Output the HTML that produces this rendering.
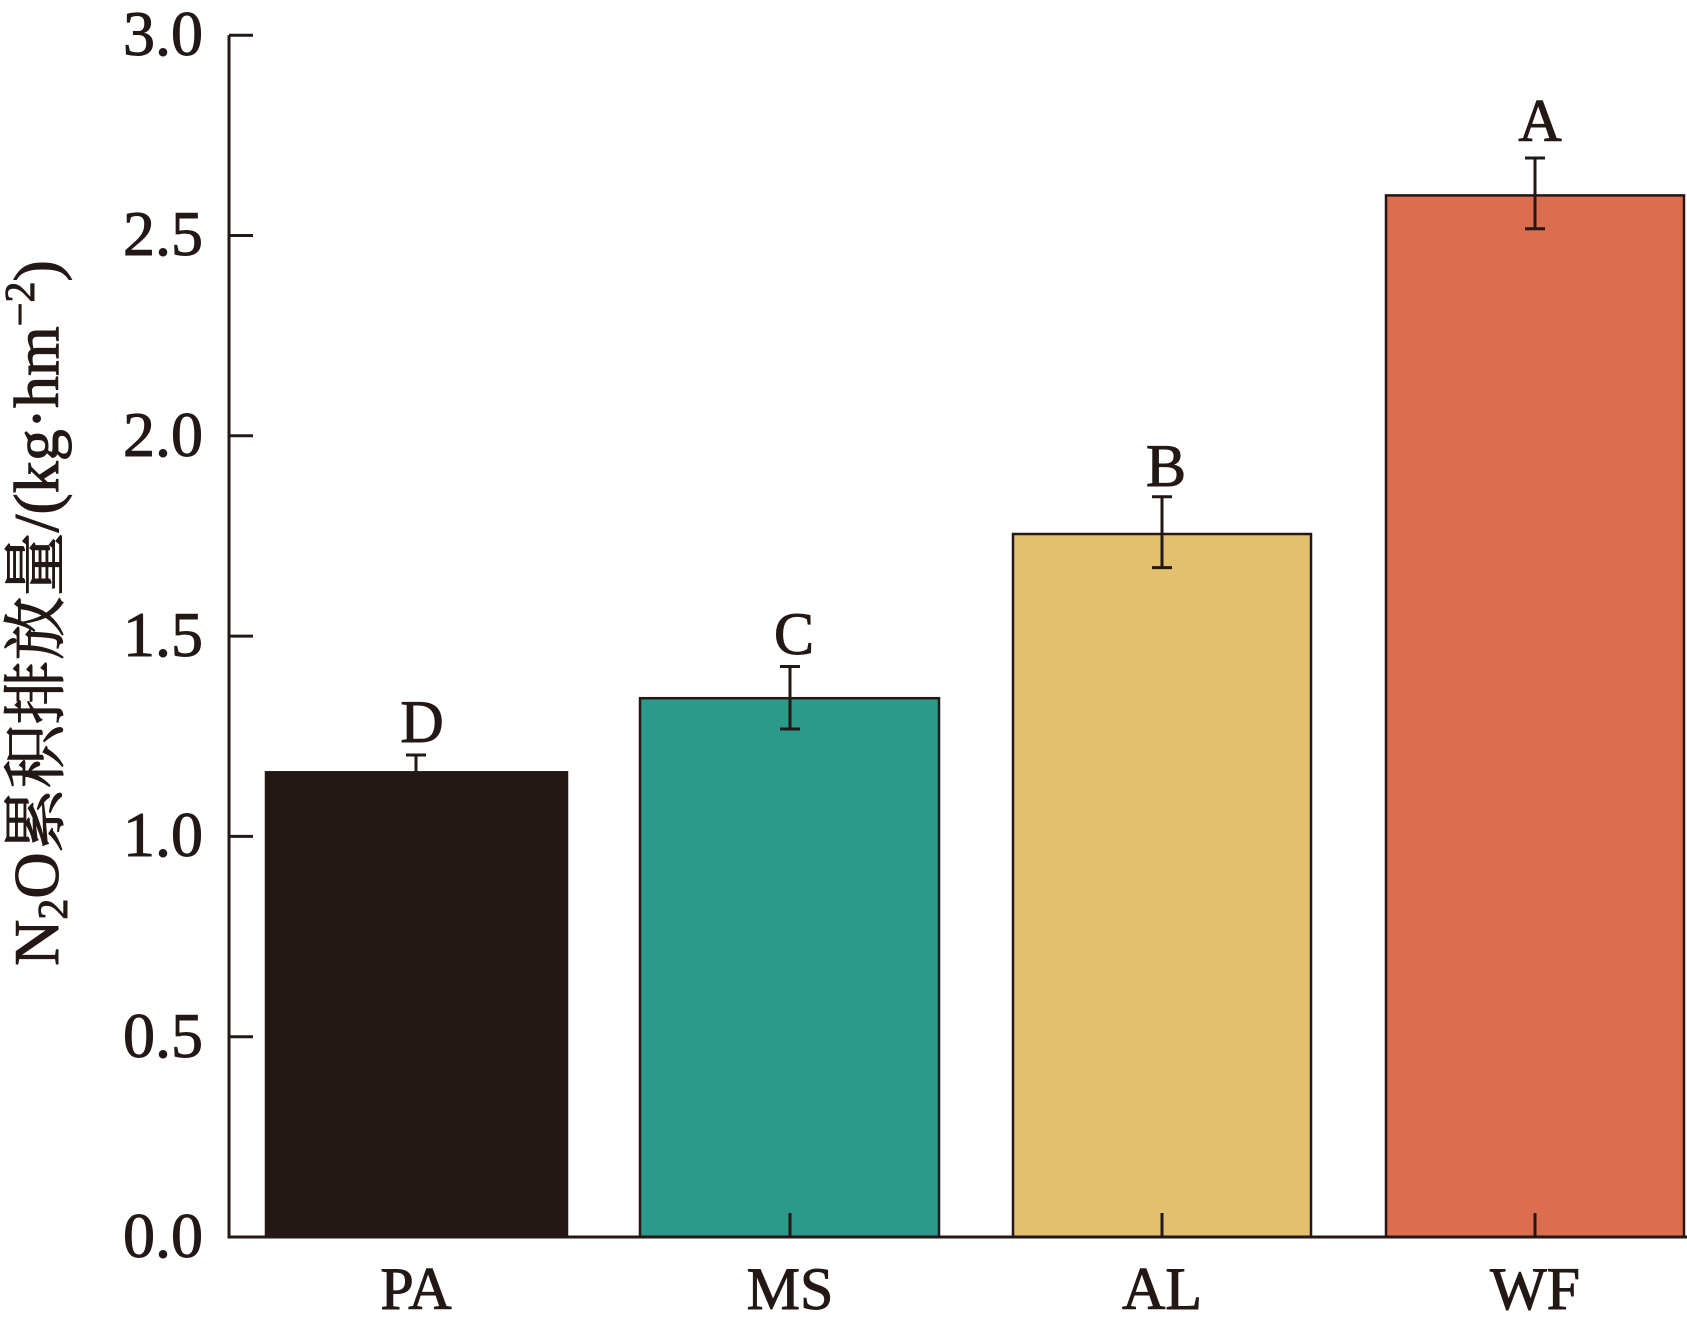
<!DOCTYPE html>
<html><head><meta charset="utf-8"><style>html,body{margin:0;padding:0;background:#fff}</style></head>
<body>
<svg width="1687" height="1312" viewBox="0 0 1687 1312" xmlns="http://www.w3.org/2000/svg" font-family="'Liberation Serif','Noto Serif CJK SC',serif" fill="#231815">
<g stroke="#231815" stroke-width="2.5">
<rect x="266" y="772.3" width="301" height="464.7" fill="#231815"/>
<rect x="640" y="698.2" width="299" height="538.8" fill="#2c9a8a"/>
<rect x="1013" y="534" width="298" height="703" fill="#e2c06e"/>
<rect x="1386" y="195.4" width="298" height="1041.6" fill="#dc6d4f"/>
</g>
<g stroke="#231815" stroke-width="3" fill="none">
<path d="M229 35.2V1237H1687"/>
<path d="M229 35.2h24M229 235.5h24M229 435.8h24M229 636.1h24M229 836.4h24M229 1036.7h24"/>
<path d="M790 1237v-24M1162 1237v-24M1535 1237v-24"/>
<path d="M416 772v-17M406 755h20"/>
<path d="M790 666.5v62.5M780 666.5h20M780 729h20"/>
<path d="M1162 496.7v70.9M1152 496.7h20M1152 567.6h20"/>
<path d="M1535 158v70.7M1525 158h20M1525 228.7h20"/>
</g>
<g stroke="#231815" stroke-width="1">
<g font-size="64" text-anchor="end">
<text x="203" y="55">3.0</text>
<text x="203" y="255">2.5</text>
<text x="203" y="456">2.0</text>
<text x="203" y="656">1.5</text>
<text x="203" y="856">1.0</text>
<text x="203" y="1057">0.5</text>
<text x="203" y="1257">0.0</text>
</g>
<g font-size="60" text-anchor="middle">
<text x="416" y="1309">PA</text>
<text x="790" y="1309">MS</text>
<text x="1162" y="1309">AL</text>
<text x="1535" y="1309">WF</text>
<text x="422" y="742">D</text>
<text x="794" y="654">C</text>
<text x="1166" y="486">B</text>
<text x="1540" y="141">A</text>
</g>
<text transform="translate(58,613) rotate(-90)" font-size="64" text-anchor="middle">N<tspan font-size="42" dy="9">2</tspan><tspan dy="-9">O累积排放量/(kg·hm</tspan><tspan font-size="42" dy="-24">−2</tspan><tspan dy="24">)</tspan></text>
</g>
</svg>
</body></html>
